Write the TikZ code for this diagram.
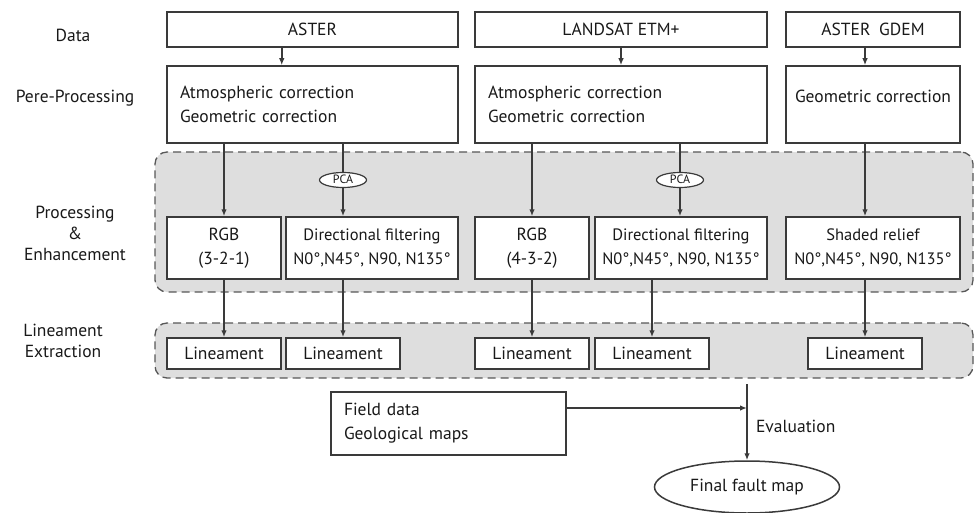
\documentclass[tikz,border=0pt]{standalone}
\usepackage{fontspec}
\setmainfont{PT Sans}
\usetikzlibrary{arrows.meta, positioning, shapes.geometric, backgrounds}
\definecolor{linegray}{RGB}{58,58,58}
\definecolor{bandgray}{RGB}{222,222,222}
\definecolor{textgray}{RGB}{25,25,25}
\tikzset{
  box/.style     = {draw=linegray, line width=1.5pt, fill=white, text=textgray,
                    inner sep=0pt, font=\fontsize{17.5}{24}\selectfont},
  datarow/.style = {box, minimum height=35pt},
  preprow/.style = {box, minimum height=77pt},
  procrow/.style = {box, minimum height=62pt, align=center},
  dirrow/.style  = {procrow, font=\fontsize{16.5}{24}\selectfont},
  linrow/.style  = {box, minimum height=31pt, minimum width=114pt},
  band/.style    = {draw=linegray!85, line width=1.3pt, dash pattern=on 8pt off 5pt,
                    fill=bandgray, rounded corners=12pt, inner sep=0pt},
  arrow/.style   = {-{Latex[length=7pt,width=5.5pt]}, line width=1.5pt, color=linegray},
  pca/.style     = {ellipse, draw=linegray, line width=1.2pt, fill=white, text=textgray,
                    inner sep=0pt, minimum width=47pt, minimum height=15pt,
                    text height=6pt, text depth=0pt, font=\fontsize{12}{12}\selectfont},
  stage/.style   = {align=center, text=textgray, font=\fontsize{17.5}{21}\selectfont},
}

\begin{document}
\begin{tikzpicture}[x=1pt, y=-1pt]
  \useasboundingbox (0,0) rectangle (976,513);

  % stage labels
  \node[stage] (sData) at (73,35) {Data};
  \node[stage] (sPre)  at (75,98) {Pere-Processing};
  \node[stage] (sProc) at (75,233) {Processing\\\&\\Enhancement};
  \node[stage] (sLin)  at (63,341) {Lineament\\Extraction};

  % data
  \node[datarow, minimum width=291pt] (dataA) at (312.5,29.5) {ASTER};
  \node[datarow, minimum width=292pt] (dataL) at (621,29.5) {LANDSAT ETM+};
  \node[datarow, minimum width=174pt] (dataG) at (873,29.5) {ASTER\enspace GDEM};

  % pre-processing
  \node[preprow, minimum width=291pt, text width=265pt, inner xsep=13pt, align=left] (preA)
    at (312.5,104.5) {Atmospheric correction\\Geometric correction};
  \node[preprow, minimum width=292pt, text width=266pt, inner xsep=13pt, align=left] (preL)
    at (621,104.5) {Atmospheric correction\\Geometric correction};
  \node[preprow, minimum width=174pt, text depth=16pt] (preG) at (873,104.5) {Geometric correction};

  % processing & enhancement
  \node[procrow, minimum width=114pt] (rgbA) at (224,248) {RGB\\(3-2-1)};
  \node[dirrow, minimum width=172pt] (dirA) at (372,248) {Directional filtering\\N0°,N45°, N90, N135°};
  \node[procrow, minimum width=114pt] (rgbL) at (532,248) {RGB\\(4-3-2)};
  \node[dirrow, minimum width=172pt] (dirL) at (681,248) {Directional filtering\\N0°,N45°, N90, N135°};
  \node[dirrow, minimum width=174pt] (shade) at (873,248) {Shaded relief\\N0°,N45°, N90, N135°};
  \node[pca] (pcaA) at (343,180) {PCA};
  \node[pca] (pcaL) at (680,180) {PCA};

  % lineament extraction
  \foreach \n/\x in {linA1/224, linA2/343, linL1/532, linL2/652, linG/865} {
    \node[linrow] (\n) at (\x,353.5) {Lineament};
  }

  % dashed bands behind
  \begin{scope}[on background layer]
    \node[band, minimum width=818pt, minimum height=140pt] (procband) at (564,222) {};
    \node[band, minimum width=818pt, minimum height=55pt] (linband) at (564,350.5) {};
  \end{scope}

  % field data and result
  \node[preprow, minimum width=235pt, minimum height=63pt, text width=209pt, inner xsep=13pt,
        align=left] (field) at (448.5,423.5) {Field data\\Geological maps};
  \node[box, ellipse, minimum width=185pt, minimum height=52pt] (final) at (747,487) {Final fault map};
  \coordinate (evaltop) at (747,384);
  \coordinate (join) at (747,408);

  % arrows
  \draw[arrow] (dataA.south -| rgbA.east) -- (preA.north -| rgbA.east);
  \draw[arrow] (dataL.south) -- (preL.north -| dataL);
  \draw[arrow] (dataG.south -| linG) -- (preG.north -| linG);
  \draw[arrow] (preA.south -| rgbA) -- (rgbA.north);
  \draw[arrow] (preL.south -| rgbL) -- (rgbL.north);
  \draw[arrow] (preG.south -| linG) -- (shade.north -| linG);
  \foreach \p in {pcaA, pcaL} {
    \draw[line width=1.5pt, linegray] (preA.south -| \p) -- (\p.north);
  }
  \draw[arrow] (pcaA.south) -- (dirA.north -| pcaA);
  \draw[arrow] (pcaL.south) -- (dirL.north -| pcaL);
  \foreach \p/\l in {rgbA/linA1, dirA/linA2, rgbL/linL1, dirL/linL2, shade/linG} {
    \draw[arrow] (\p.south -| \l) -- (\l.north);
  }
  \draw[arrow] (field.east |- join) -- (join);
  \draw[arrow] (evaltop) -- (final.north)
    node[pos=0.56, right=5pt, stage] (eval) {Evaluation};

\end{tikzpicture}
\end{document}
